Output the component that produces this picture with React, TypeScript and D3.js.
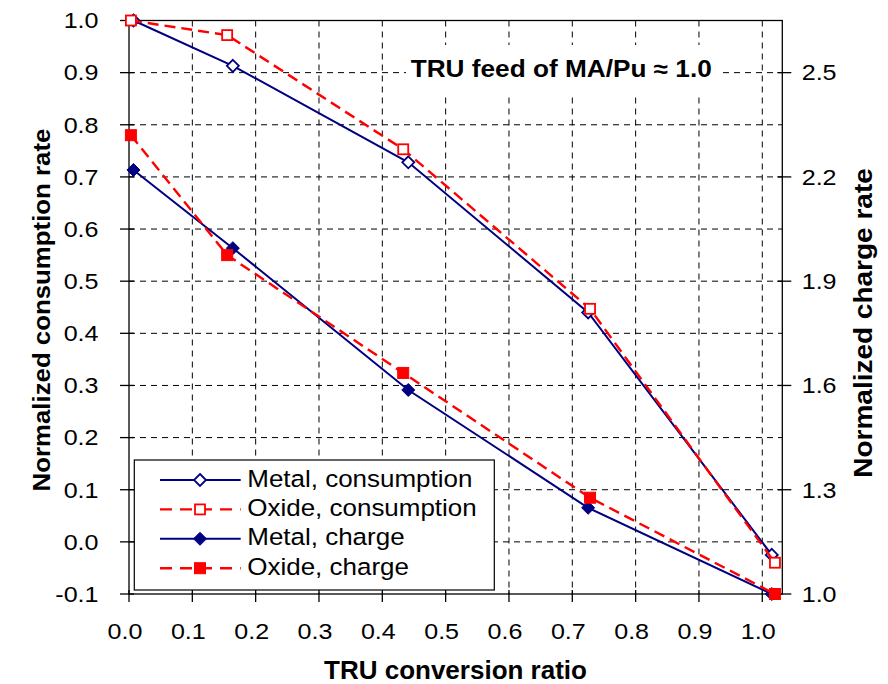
import React from "react";
import * as d3 from "d3";

const metalX = [0.007, 0.164, 0.441, 0.725, 1.015];
const oxideX = [0.003, 0.155, 0.433, 0.728, 1.02];
const metalConsumption = [1.0, 0.913, 0.728, 0.44, -0.025];
const oxideConsumption = [1.0, 0.972, 0.753, 0.447, -0.04];
const metalCharge = [2.22, 1.995, 1.587, 1.248, 1.0];
const oxideCharge = [2.32, 1.975, 1.636, 1.277, 1.0];

const xTicks = [0, 0.1, 0.2, 0.3, 0.4, 0.5, 0.6, 0.7, 0.8, 0.9, 1.0];
const xTickLabels = ["0.0", "0.1", "0.2", "0.3", "0.4", "0.5", "0.6", "0.7", "0.8", "0.9", "1.0"];
const yLTicks = [-0.1, 0, 0.1, 0.2, 0.3, 0.4, 0.5, 0.6, 0.7, 0.8, 0.9, 1.0];
const yLTickLabels = ["-0.1", "0.0", "0.1", "0.2", "0.3", "0.4", "0.5", "0.6", "0.7", "0.8", "0.9", "1.0"];
const yRTicks = [1.0, 1.3, 1.6, 1.9, 2.2, 2.5];
const yRTickLabels = ["1.0", "1.3", "1.6", "1.9", "2.2", "2.5"];

const legendLabels = ["Metal, consumption", "Oxide, consumption", "Metal, charge", "Oxide, charge"];

const NAVY = "#000080";
const RED = "#FF0000";
const FONT = "'Liberation Sans', Arial, sans-serif";

const L = 129, R = 782.3, T = 20.5, B = 594;

const x = d3.scaleLinear().domain([0, 1.0316]).range([L, R]);
const yL = d3.scaleLinear().domain([-0.1, 1.0]).range([B, T]);
const yR = d3.scaleLinear().domain([1.0, 2.65]).range([B, T]);

function Txt(props: { x: number; y: number; size: number; sx: number; anchor?: string; bold?: boolean; rotate?: number; children: React.ReactNode }) {
  const { x: tx, y: ty, size, sx, anchor = "start", bold = false, rotate = 0, children } = props;
  return (
    <text
      transform={`translate(${tx},${ty}) rotate(${rotate}) scale(${sx},1)`}
      fontFamily={FONT}
      fontSize={size}
      fontWeight={bold ? "bold" : "normal"}
      textAnchor={anchor}
      fill="#000"
    >
      {children}
    </text>
  );
}

function Marker(props: { kind: string; cx: number; cy: number }) {
  const { kind, cx, cy } = props;
  if (kind === "openDiamond") {
    const r = 6;
    return <path d={`M${cx},${cy - r}L${cx + r},${cy}L${cx},${cy + r}L${cx - r},${cy}Z`} fill="#fff" stroke={NAVY} strokeWidth={1.8} />;
  }
  if (kind === "filledDiamond") {
    const r = 6.5;
    return <path d={`M${cx},${cy - r}L${cx + r},${cy}L${cx},${cy + r}L${cx - r},${cy}Z`} fill={NAVY} stroke={NAVY} strokeWidth={1} />;
  }
  if (kind === "openSquare") {
    const s = 10;
    return <rect x={cx - s / 2} y={cy - s / 2} width={s} height={s} fill="#fff" stroke={RED} strokeWidth={1.8} />;
  }
  const s = 11;
  return <rect x={cx - s / 2} y={cy - s / 2} width={s} height={s} fill={RED} stroke={RED} strokeWidth={1} />;
}

export default function App() {
  const series = [
    { xs: metalX, ys: metalConsumption, scale: yL, color: NAVY, dash: undefined, width: 2, marker: "openDiamond" },
    { xs: oxideX, ys: oxideConsumption, scale: yL, color: RED, dash: "11,6", width: 2.4, marker: "openSquare" },
    { xs: metalX, ys: metalCharge, scale: yR, color: NAVY, dash: undefined, width: 2, marker: "filledDiamond" },
    { xs: oxideX, ys: oxideCharge, scale: yR, color: RED, dash: "11,6", width: 2.4, marker: "filledSquare" },
  ];

  const lineGen = (xs: number[], ys: number[], sc: d3.ScaleLinear<number, number>) =>
    d3.line<number>().x((_, i) => x(xs[i])).y((d) => sc(d))(ys) || "";

  const legX = 134.3, legY = 460, legW = 360, legH = 130;
  const rowY = [480, 509.4, 538.8, 568.2];

  return (
    <svg width={888} height={684} style={{ position: "absolute", left: 0, top: 0, background: "#fff" }}>
      <rect x={0} y={0} width={888} height={684} fill="#fff" />
      {/* gridlines */}
      {yLTicks.slice(1, -1).map((v) => (
        <line key={"gy" + v} x1={L} x2={R} y1={yL(v)} y2={yL(v)} stroke="#000" strokeWidth={1} strokeDasharray="6,5" />
      ))}
      {xTicks.slice(1).map((v) => (
        <line key={"gx" + v} x1={x(v)} x2={x(v)} y1={T} y2={B} stroke="#000" strokeWidth={1} strokeDasharray="6,5" />
      ))}
      {/* title box */}
      <rect x={406} y={45} width={316} height={48} fill="#fff" />
      <Txt x={410.7} y={77.3} size={23.4} sx={1.12} bold>TRU feed of MA/Pu ≈ 1.0</Txt>
      {/* plot border */}
      <rect x={L} y={T} width={R - L} height={B - T} fill="none" stroke="#000" strokeWidth={1.3} />
      {/* ticks */}
      {yLTicks.map((v) => (
        <line key={"tl" + v} x1={L - 9} x2={L + 5} y1={yL(v)} y2={yL(v)} stroke="#000" strokeWidth={1.3} />
      ))}
      {yRTicks.map((v) => (
        <line key={"tr" + v} x1={R - 5} x2={R + 9} y1={yR(v)} y2={yR(v)} stroke="#000" strokeWidth={1.3} />
      ))}
      {xTicks.map((v) => (
        <line key={"tx" + v} x1={x(v)} x2={x(v)} y1={B - 4} y2={B + 8} stroke="#000" strokeWidth={1.3} />
      ))}
      {/* tick labels */}
      {yLTicks.map((v, i) => (
        <Txt key={"ll" + v} x={98.5} y={yL(v) + 7.8} size={22} sx={1.14} anchor="end">{yLTickLabels[i]}</Txt>
      ))}
      {yRTicks.map((v, i) => (
        <Txt key={"rl" + v} x={801.7} y={yR(v) + 7.8} size={22} sx={1.14}>{yRTickLabels[i]}</Txt>
      ))}
      {xTicks.map((v, i) => (
        <Txt key={"xl" + v} x={x(v) - 4} y={639.3} size={22} sx={1.14} anchor="middle">{xTickLabels[i]}</Txt>
      ))}
      {/* axis titles */}
      <Txt x={455.5} y={679} size={26} sx={1.0} anchor="middle" bold>TRU conversion ratio</Txt>
      <Txt x={50} y={310} size={23.7} sx={1.09} anchor="middle" bold rotate={-90}>Normalized consumption rate</Txt>
      <Txt x={871.7} y={323} size={25} sx={1.12} anchor="middle" bold rotate={-90}>Normalized charge rate</Txt>
      {/* series */}
      {series.map((s, si) => (
        <g key={"s" + si}>
          <path d={lineGen(s.xs, s.ys, s.scale)} fill="none" stroke={s.color} strokeWidth={s.width} strokeDasharray={s.dash} />
          {s.ys.map((v, i) => (
            <Marker key={i} kind={s.marker} cx={x(s.xs[i])} cy={s.scale(v)} />
          ))}
        </g>
      ))}
      {/* legend */}
      <rect x={legX} y={legY} width={legW} height={legH} fill="#fff" stroke="#000" strokeWidth={1.2} />
      {series.map((s, i) => (
        <g key={"lg" + i}>
          <line x1={160} x2={240.7} y1={rowY[i]} y2={rowY[i]} stroke={s.color} strokeWidth={s.width} strokeDasharray={s.dash ? "12,8" : undefined} />
          <Marker kind={s.marker} cx={200} cy={rowY[i]} />
          <Txt x={247.3} y={rowY[i] + 6.5} size={24.5} sx={1.06}>{legendLabels[i]}</Txt>
        </g>
      ))}
    </svg>
  );
}
